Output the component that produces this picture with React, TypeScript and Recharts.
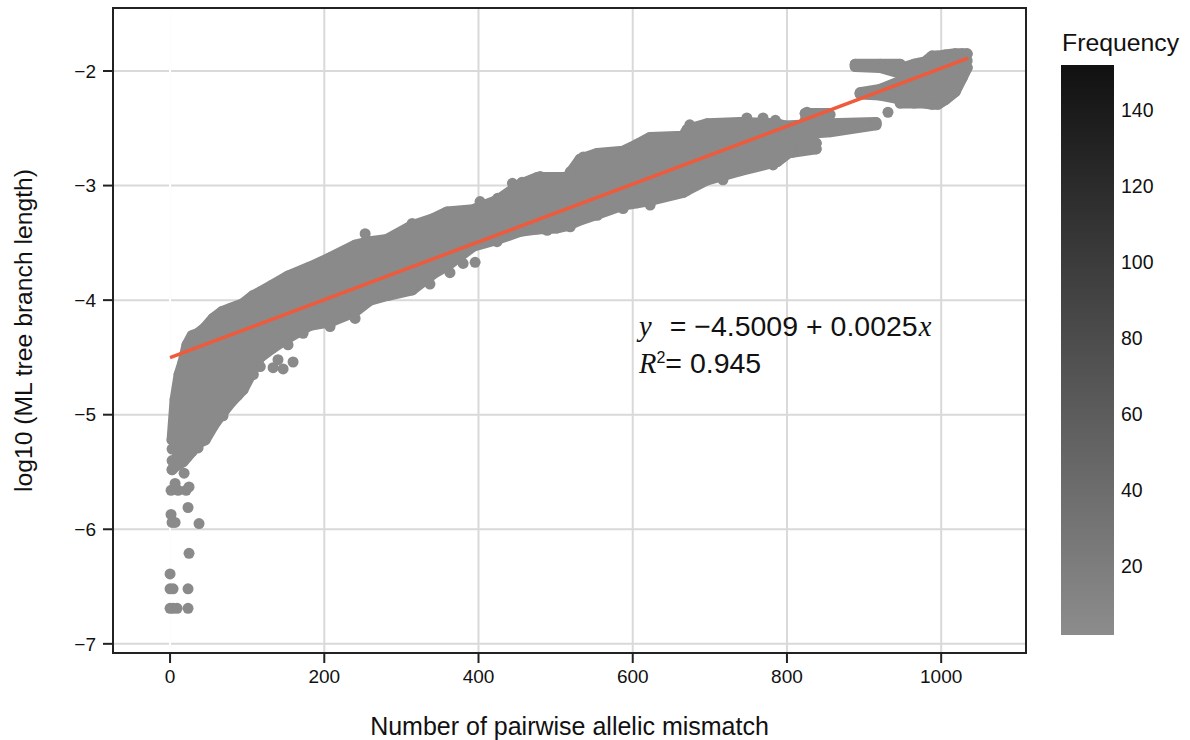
import React from "react";
import {
  ComposedChart,
  Area,
  Line,
  Scatter,
  XAxis,
  YAxis,
  CartesianGrid,
  ReferenceLine,
  ReferenceArea,
} from "recharts";

// main band: x column, top and bottom of the point cloud
const bandX = [2.6, 6.5, 11.7, 16.9, 22, 28.5, 36.3, 45.4, 55.8, 67.4, 79.1, 94.7, 107.7, 116.7, 132.3, 153, 181.6, 207.5, 240, 259.4, 281.5, 313.9, 341.1, 359.3, 393, 424.1, 454, 476, 502, 514.9, 531.8, 553.8, 587.5, 605.7, 622.6, 665.4, 670.6, 696.5, 739.3, 787.3, 806.7];
const bandHi = [-5.22, -4.87, -4.65, -4.54, -4.39, -4.31, -4.29, -4.24, -4.16, -4.1, -4.07, -4.03, -3.96, -3.93, -3.87, -3.79, -3.71, -3.63, -3.52, -3.49, -3.47, -3.35, -3.29, -3.23, -3.21, -3.13, -2.99, -2.93, -2.93, -2.93, -2.77, -2.72, -2.7, -2.64, -2.58, -2.57, -2.51, -2.46, -2.45, -2.46, -2.5];
const bandLo = [-5.48, -5.45, -5.43, -5.41, -5.37, -5.32, -5.25, -5.22, -5.1, -4.99, -4.89, -4.78, -4.61, -4.5, -4.42, -4.33, -4.22, -4.19, -4.1, -4, -3.96, -3.91, -3.77, -3.7, -3.53, -3.47, -3.4, -3.38, -3.37, -3.35, -3.3, -3.25, -3.17, -3.15, -3.13, -3.06, -3.04, -2.95, -2.87, -2.79, -2.69];

// thin arms and the cluster at the top right
const arm1X = [806.7, 837.9];
const arm1Hi = [-2.6, -2.63];
const arm1Lo = [-2.71, -2.68];
const arm2X = [797.7, 856, 915.6];
const arm2Hi = [-2.48, -2.46, -2.45];
const arm2Lo = [-2.56, -2.53, -2.47];
const arm3X = [823.6, 853.4];
const arm3Hi = [-2.37, -2.37];
const arm3Lo = [-2.43, -2.43];
const arm4X = [888.5, 920.9, 946.8];
const arm4Hi = [-1.94, -1.94, -1.94];
const arm4Lo = [-1.96, -1.97, -2.02];
const arm5X = [894.9, 920.9, 950.7];
const arm5Hi = [-2.19, -2.16, -2.08];
const arm5Lo = [-2.2, -2.21, -2.25];
const topX = [946.8, 965, 979.2, 988.3, 996, 1005.2, 1018.2, 1027.2, 1033.7];
const topHi = [-1.98, -1.94, -1.92, -1.87, -1.87, -1.86, -1.85, -1.85, -1.85];
const topLo = [-2.28, -2.28, -2.28, -2.29, -2.29, -2.25, -2.18, -2.06, -1.97];

// isolated points
const strayX = [18.2, 6.5, 1.3, 10.4, 20.8, 24.6, 23.3, 1.3, 2.6, 6.5, 37.6, 24.6, 0, 0, 3.9, 23.3, 0, 3.9, 9.1, 23.3, 133.6, 140, 146.6, 159.5, 68.7, 79, 337, 363, 380, 395.6, 253, 931];
const strayY = [-5.51, -5.6, -5.66, -5.66, -5.66, -5.63, -5.81, -5.87, -5.94, -5.94, -5.95, -6.21, -6.39, -6.52, -6.52, -6.52, -6.69, -6.69, -6.69, -6.69, -4.59, -4.52, -4.6, -4.54, -5.01, -4.88, -3.86, -3.76, -3.68, -3.67, -3.42, -2.36];

// points that stick out of the cloud edges
const bumpX = [2.6, 2.6, 1033.7, 314, 402, 425, 444, 456.5, 480, 519, 536, 674, 748, 769, 785, 826, 856, 36.3, 45, 54, 88, 108, 117, 153, 172.5, 207.5, 240, 314, 263, 424, 489, 519, 554, 587.5, 622.6, 782, 739, 717];
const bumpY = [-5.3, -5.4, -1.91, -3.33, -3.14, -3.11, -2.98, -2.97, -2.92, -2.88, -2.75, -2.47, -2.41, -2.41, -2.43, -2.36, -2.38, -5.29, -5.2, -5.09, -4.83, -4.65, -4.58, -4.39, -4.29, -4.23, -4.16, -3.91, -3.97, -3.49, -3.39, -3.36, -3.26, -3.2, -3.17, -2.82, -2.86, -2.95];

const fitX = [0, 1035];
const fitY = [-4.5009, -1.8884];

const xTicks = [0, 200, 400, 600, 800, 1000];
const yTicks = [-7, -6, -5, -4, -3, -2];
const freqTicks = [20, 40, 60, 80, 100, 120, 140];

const GREY = "#8a8a8a";
const FONT = "'Liberation Sans', Arial, sans-serif";
const SERIF = "'Liberation Serif', serif";

const makeRange = (xs: number[], hi: number[], lo: number[]) =>
  xs.map((x, i) => ({ x, range: [lo[i], hi[i]] }));

const makeEdges = (xs: number[], hi: number[], lo: number[]) =>
  xs.flatMap((x, i) => [
    { x, y: hi[i] },
    { x, y: lo[i] },
  ]);

const clouds = [
  [bandX, bandHi, bandLo],
  [arm1X, arm1Hi, arm1Lo],
  [arm2X, arm2Hi, arm2Lo],
  [arm3X, arm3Hi, arm3Lo],
  [arm4X, arm4Hi, arm4Lo],
  [arm5X, arm5Hi, arm5Lo],
  [topX, topHi, topLo],
];

const pointData = [
  ...strayX.map((x, i) => ({ x, y: strayY[i] })),
  ...bumpX.map((x, i) => ({ x, y: bumpY[i] })),
  ...clouds.flatMap(([xs, hi, lo]) => makeEdges(xs, hi, lo)),
];

const fitData = fitX.map((x, i) => ({ x, y: fitY[i] }));

const tickStyle = { fontSize: 19, fill: "#111", fontFamily: FONT };
const minus = (v: number) => String(v).replace("-", "\u2212");

const freqY = (v: number) => 566 - ((v - 20) / 20) * 76;

const Dot = (props: any) => <circle cx={props.cx} cy={props.cy} r={5.5} fill={GREY} />;

export default function App() {
  return (
    <div style={{ position: "absolute", left: 0, top: 0, width: 1190, height: 740, background: "#fff", overflow: "hidden", fontFamily: FONT, color: "#111" }}>
      <ComposedChart width={1190} height={740} margin={{ top: 8, right: 164, bottom: 0, left: 0 }}>
        <CartesianGrid stroke="#d9d9d9" strokeWidth={2} />
        <XAxis
          dataKey="x"
          type="number"
          domain={[-74, 1110]}
          ticks={xTicks}
          height={87}
          tickSize={10}
          tickMargin={7}
          tick={tickStyle}
          stroke="#222"
          strokeWidth={2}
          interval={0}
          allowDataOverflow
          label={{ value: "Number of pairwise allelic mismatch", position: "insideBottom", offset: 5, style: { fontSize: 25, fill: "#111", fontFamily: FONT } }}
        />
        <YAxis
          dataKey="y"
          type="number"
          domain={[-7.08, -1.45]}
          ticks={yTicks}
          width={113}
          tickSize={10}
          tickMargin={7}
          tick={tickStyle}
          tickFormatter={minus}
          stroke="#222"
          strokeWidth={2}
          interval={0}
          allowDataOverflow
          label={{ value: "log10 (ML tree branch length)", angle: -90, position: "insideLeft", offset: 23, style: { fontSize: 24.7, fill: "#111", fontFamily: FONT, textAnchor: "middle" } }}
        />
        <ReferenceLine x={0} stroke="#fff" strokeWidth={2} zIndex={-50} />
        {clouds.map(([xs, hi, lo], i) => (
          <Area
            key={i}
            data={makeRange(xs, hi, lo)}
            dataKey="range"
            type="linear"
            fill={GREY}
            fillOpacity={1}
            stroke={GREY}
            strokeWidth={11}
            strokeLinejoin="round"
            strokeLinecap="round"
            dot={false}
            activeDot={false}
            isAnimationActive={false}
          />
        ))}
        <Scatter data={pointData} dataKey="y" shape={Dot} isAnimationActive={false} />
        <Line data={fitData} dataKey="y" type="linear" stroke="#ee5a3b" strokeWidth={3.5} dot={false} activeDot={false} isAnimationActive={false} zIndex={700} />
        <ReferenceArea x1={-74} x2={1110} y1={-7.08} y2={-1.45} fill="none" stroke="#222" strokeWidth={2} />
      </ComposedChart>

      <div style={{ position: "absolute", left: 639, top: 308, fontSize: 28.5, lineHeight: "36px", whiteSpace: "nowrap" }}>
        <div>
          <i style={{ fontFamily: SERIF }}>y</i>
          <span style={{ marginLeft: 18 }}>= {"\u2212"}4.5009 + 0.0025</span>
          <i style={{ fontFamily: SERIF, marginLeft: 1 }}>x</i>
        </div>
        <div>
          <i style={{ fontFamily: SERIF }}>R</i>
          <sup style={{ fontSize: 16, lineHeight: 0 }}>2</sup>= 0.945
        </div>
      </div>

      <div style={{ position: "absolute", left: 1062, top: 29, fontSize: 24.8, whiteSpace: "nowrap" }}>Frequency</div>
      <div style={{ position: "absolute", left: 1061, top: 65, width: 53, height: 570, background: "linear-gradient(to bottom, #111111, #8c8c8c)" }} />
      {freqTicks.map((t) => (
        <div key={t} style={{ position: "absolute", left: 1121, top: freqY(t) - 11, fontSize: 19.5, lineHeight: "22px" }}>
          {t}
        </div>
      ))}
    </div>
  );
}
